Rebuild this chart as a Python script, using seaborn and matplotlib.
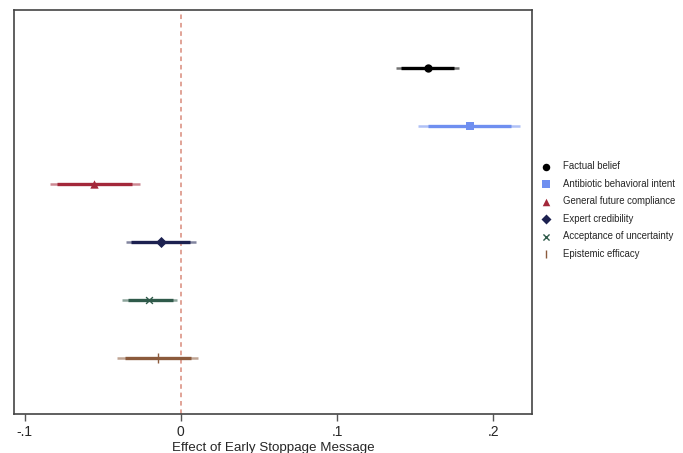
import numpy as np
import pandas as pd
import seaborn as sns
import matplotlib.pyplot as plt

sns.set_style("white")
plt.rcParams["font.family"] = ["Liberation Sans", "DejaVu Sans"]

# ---------------------------------------------------------
# Coefficients and confidence intervals
# ---------------------------------------------------------
outcomes = [
    "Factual belief",
    "Antibiotic behavioral intent",
    "General future compliance",
    "Expert credibility",
    "Acceptance of uncertainty",
    "Epistemic efficacy",
]
estimate = [0.158, 0.185, -0.0555, -0.0127, -0.0205, -0.0148]
ci95_low = [0.1375, 0.152, -0.084, -0.035, -0.0376, -0.041]
ci95_high = [0.178, 0.217, -0.026, 0.0096, -0.0025, 0.011]
ci90_low = [0.141, 0.158, -0.079, -0.032, -0.034, -0.036]
ci90_high = [0.175, 0.2115, -0.031, 0.0057, -0.005, 0.0064]

colors = ["#000000", "#6f8ff0", "#a3283a", "#1c2150", "#2f5a4a", "#8b5a3c"]
markers = ["o", "s", "^", "D", "x", "|"]
marker_sizes = [36, 34, 36, 32, 24, 44]

df = pd.DataFrame({
    "outcome": outcomes,
    "est": estimate,
    "lo95": ci95_low,
    "hi95": ci95_high,
    "lo90": ci90_low,
    "hi90": ci90_high,
})
df["pos"] = np.arange(len(df))

fig = plt.figure(figsize=(6.83, 4.53), dpi=100)
ax = fig.add_axes([0.020, 0.086, 0.759, 0.892])

ax.axvline(0, color="#d98a7a", linestyle=(0, (3, 2.5)), linewidth=1.1, zorder=1)

for i, row in df.iterrows():
    c = colors[i]
    ax.hlines(row["pos"], row["lo95"], row["hi95"], color=c, linewidth=1.8, alpha=0.55, zorder=2)
    ax.hlines(row["pos"], row["lo90"], row["hi90"], color=c, linewidth=2.4, zorder=3)
    sns.scatterplot(x=[row["est"]], y=[row["pos"]], marker=markers[i], color=c,
                    s=marker_sizes[i], linewidth=1.0 if markers[i] in ("x", "|") else 0,
                    edgecolor=c if markers[i] not in ("x", "|") else None,
                    label=row["outcome"], ax=ax, zorder=4)

ax.set_xlim(-0.107, 0.2248)
ax.set_ylim(5.97, -1.0)
ax.set_yticks([])
ax.set_xticks([-0.1, 0, 0.1, 0.2])
ax.set_xticklabels(["-.1", "0", ".1", ".2"])
ax.tick_params(axis="x", direction="out", length=5, width=1, color="#555555",
               labelsize=10, pad=3, bottom=True)
ax.set_xlabel("Effect of Early Stoppage Message", fontsize=9.6, labelpad=1.8)
ax.set_ylabel("")

for side in ["left", "right", "top", "bottom"]:
    ax.spines[side].set_color("#444444")
    ax.spines[side].set_linewidth(1.2)

leg = ax.legend(loc="center left", bbox_to_anchor=(1.0, 0.505), frameon=False,
                fontsize=6.9, handletextpad=1.1, labelspacing=0.78,
                handlelength=1.2, markerscale=0.9)

fig.savefig("out.png", dpi=100)
